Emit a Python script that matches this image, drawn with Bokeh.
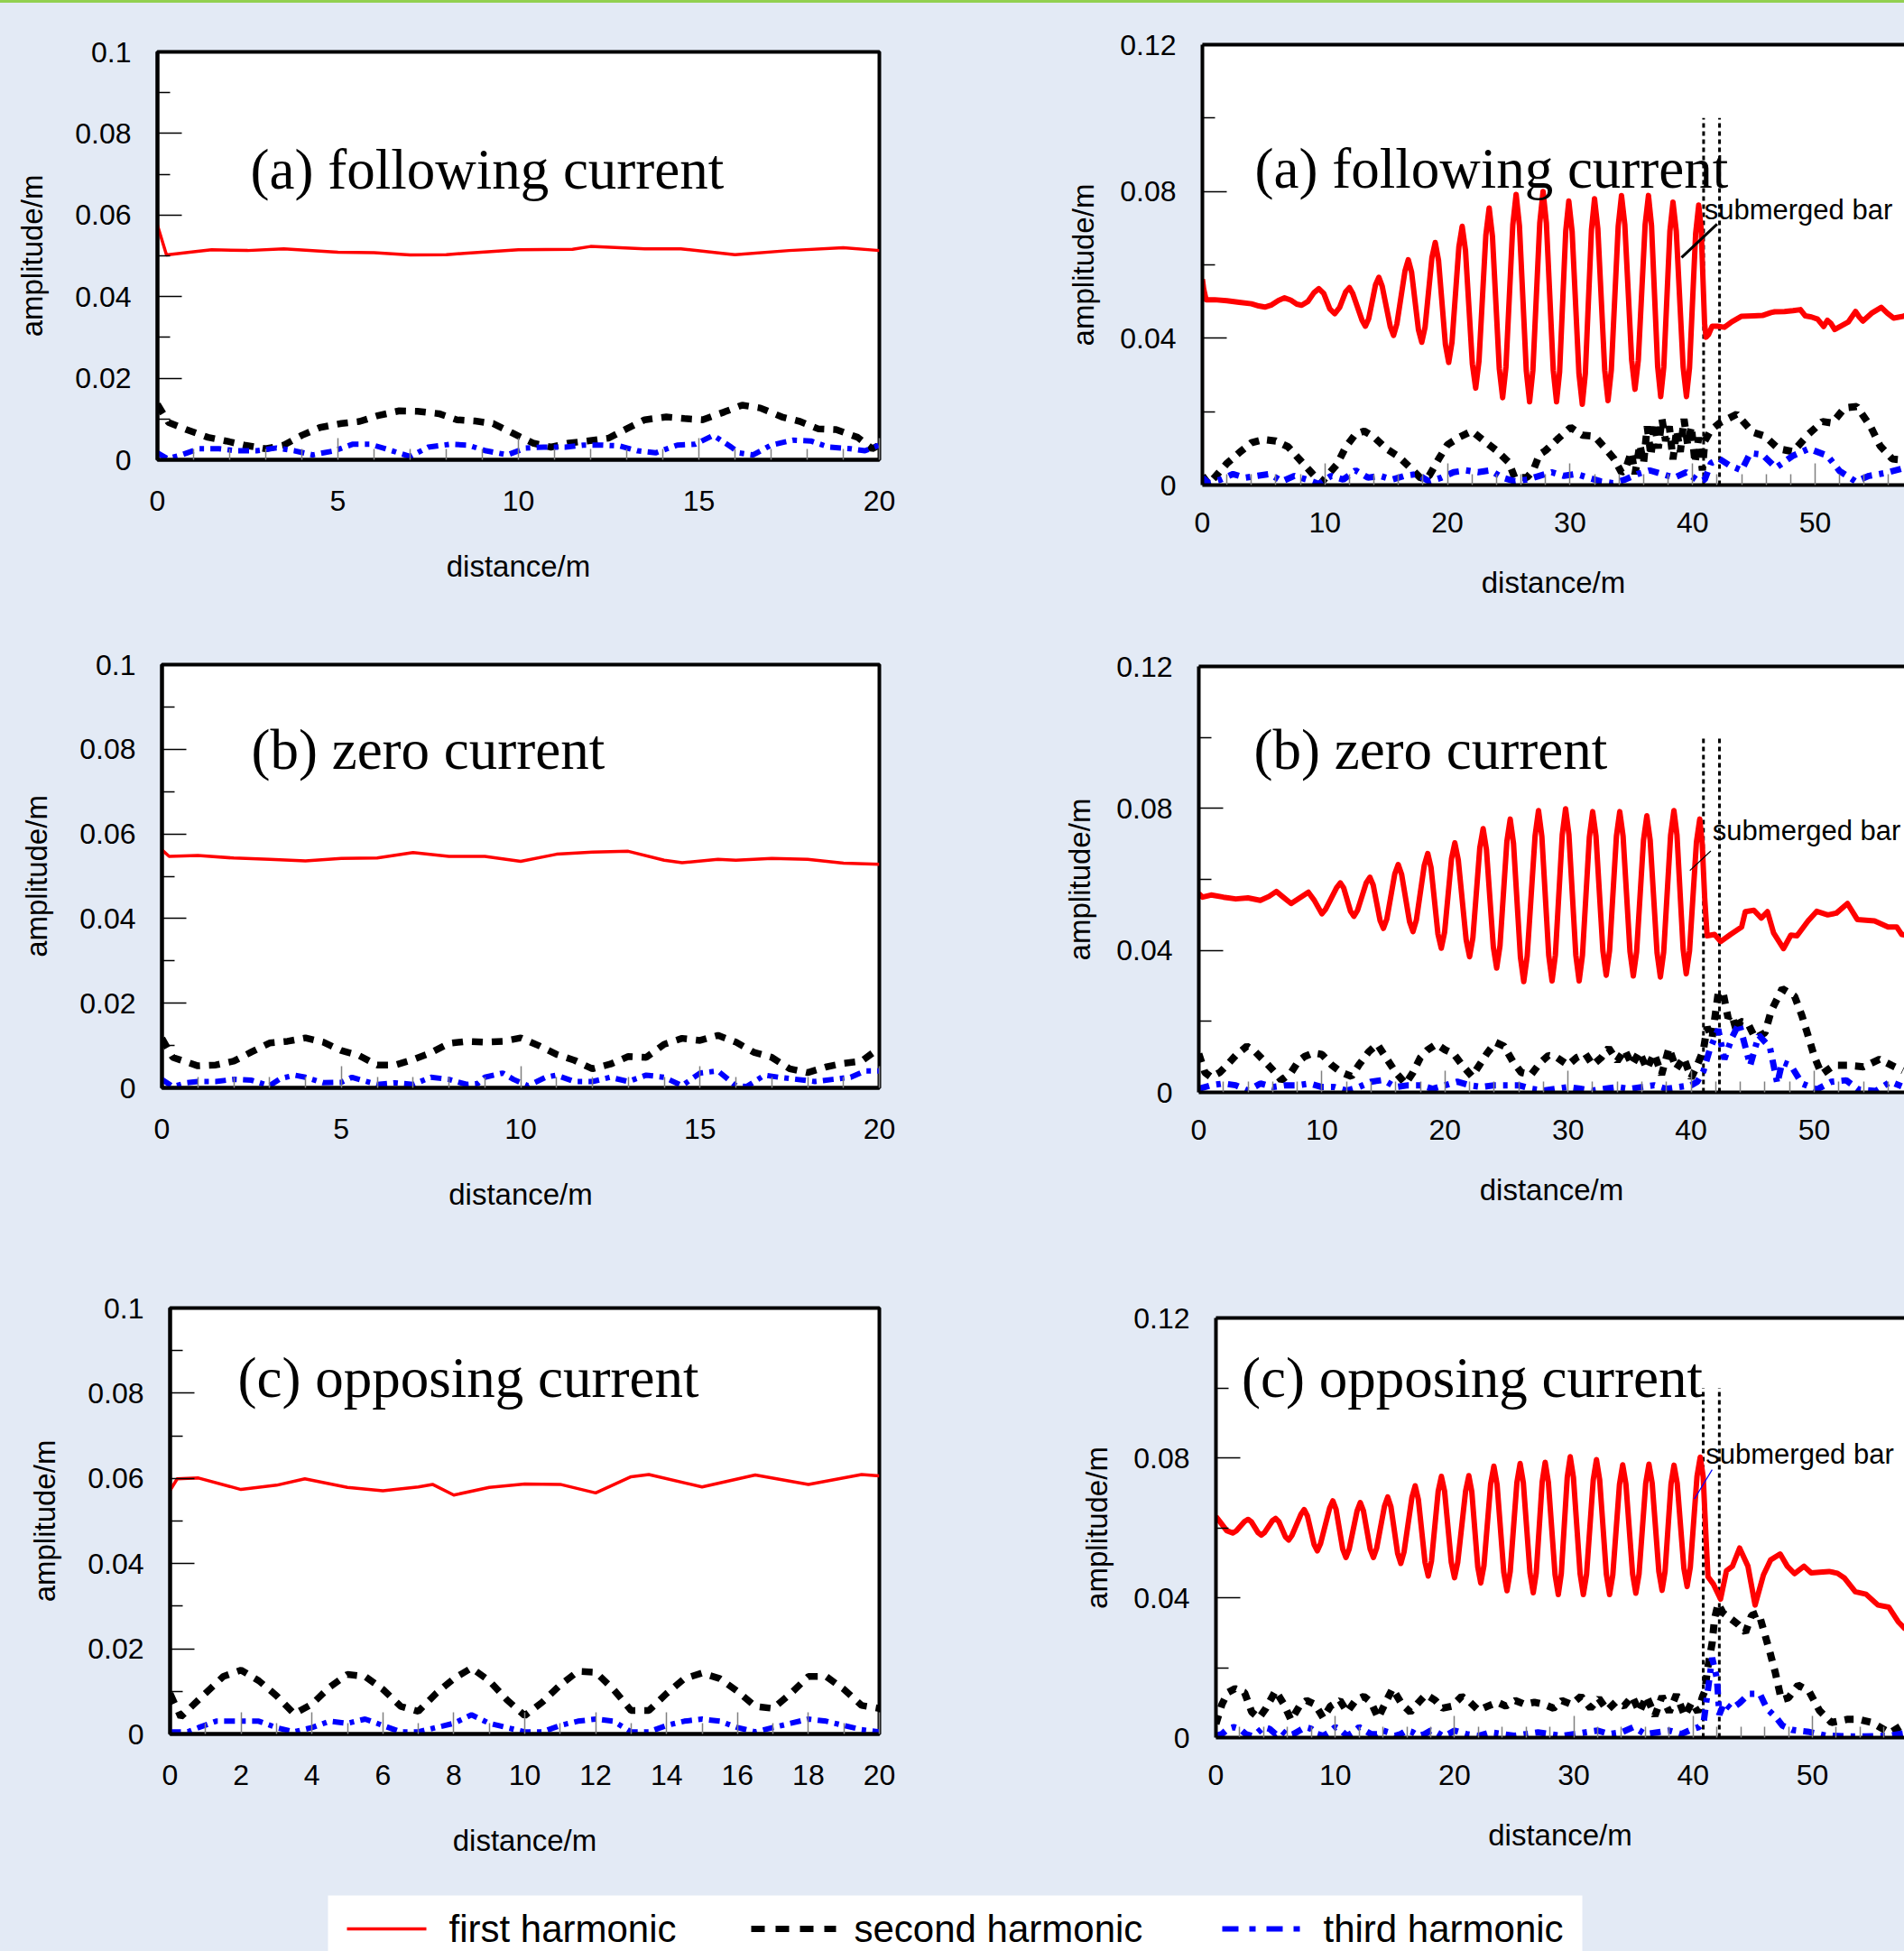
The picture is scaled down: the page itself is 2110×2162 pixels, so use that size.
from bokeh.plotting import figure
from bokeh.layouts import column, row
from bokeh.models import Range1d, LinearAxis, FixedTicker, Label
from bokeh.embed import file_html
from bokeh.resources import INLINE
from bokeh.core.properties import value

BG = "#E3EAF5"
SANS = "Liberation Sans"
SERIF = "Liberation Serif"

# ---------------- tick definitions ----------------
left_yticks = [0, 0.02, 0.04, 0.06, 0.08, 0.1]
left_ylabels = ["0", "0.02", "0.04", "0.06", "0.08", "0.1"]
left_yminor = [0.01, 0.03, 0.05, 0.07, 0.09]
right_yticks = [0, 0.04, 0.08, 0.12]
right_ylabels = ["0", "0.04", "0.08", "0.12"]
right_yminor = [0.02, 0.06, 0.1]
ab_xticks = [0, 5, 10, 15, 20]
ab_xlabels = ["0", "5", "10", "15", "20"]
ab_xminor = [1, 2, 3, 4, 6, 7, 8, 9, 11, 12, 13, 14, 16, 17, 18, 19]
c_xticks = [0, 2, 4, 6, 8, 10, 12, 14, 16, 18, 20]
c_xlabels = ["0", "2", "4", "6", "8", "10", "12", "14", "16", "18", "20"]
c_xminor = [1, 3, 5, 7, 9, 11, 13, 15, 17, 19]
r_xticks = [0, 10, 20, 30, 40, 50]
r_xlabels = ["0", "10", "20", "30", "40", "50"]
r_xminor = [2, 4, 6, 8, 12, 14, 16, 18, 22, 24, 26, 28, 32, 34, 36, 38, 42, 44, 46, 48, 52, 54, 56, 58]

titles = ["(a) following current", "(b) zero current", "(c) opposing current"]
series_names = ["first harmonic", "second harmonic", "third harmonic"]

# submerged bar edges (m) for right panels (a), (b), (c)
bar_a = [40.9, 42.2]
bar_b = [41.0, 42.3]
bar_c = [40.85, 42.2]
bar_top = 0.1

# ---------------- left (a) following current, 0-20 m ----------------
la_first = [(0, 0.0575), (0.25, 0.0502), (1, 0.0510), (1.5, 0.0515), (2.5, 0.0513), (3.5, 0.0517),
            (5, 0.0509), (6, 0.0508), (7, 0.0502), (8, 0.0503), (8.5, 0.0506), (10, 0.0515),
            (11.5, 0.0516), (12, 0.0523), (13.5, 0.0517), (14.5, 0.0517), (16, 0.0503),
            (17.5, 0.0513), (19, 0.0520), (20, 0.0513)]
la_second = [(0, 0.0136), (0.3, 0.0092), (0.8, 0.0074), (1.4, 0.0055), (1.9, 0.0046), (2.4, 0.0036),
             (3.0, 0.0027), (3.5, 0.0036), (4.0, 0.0060), (4.5, 0.0079), (5.1, 0.0089), (5.6, 0.0094),
             (6.1, 0.0108), (6.7, 0.0120), (7.2, 0.0119), (7.8, 0.0113), (8.3, 0.0098), (8.8, 0.0095),
             (9.3, 0.0089), (9.8, 0.0067), (10.4, 0.0041), (10.9, 0.0031), (11.4, 0.0041), (11.9, 0.0046),
             (12.5, 0.0053), (13.0, 0.0076), (13.5, 0.0098), (14.1, 0.0105), (14.6, 0.0101), (15.1, 0.0098),
             (15.7, 0.0117), (16.2, 0.0134), (16.7, 0.0127), (17.3, 0.0105), (17.8, 0.0094), (18.3, 0.0076),
             (18.8, 0.0074), (19.4, 0.0055), (19.8, 0.0027), (20, 0.0036)]
la_third = [(0, 0.0017), (0.27, 0.0003), (0.67, 0.0012), (1.15, 0.0027), (1.7, 0.0027), (2.2, 0.0022),
            (2.75, 0.0022), (3.3, 0.0029), (3.8, 0.0022), (4.3, 0.0012), (4.9, 0.0022), (5.4, 0.0038),
            (5.9, 0.0038), (6.5, 0.0022), (7.0, 0.0008), (7.5, 0.0031), (8.1, 0.0038), (8.6, 0.0036),
            (9.1, 0.0022), (9.7, 0.0012), (10.2, 0.0029), (10.7, 0.0031), (11.3, 0.0031), (11.8, 0.0036),
            (12.3, 0.0036), (12.8, 0.0034), (13.3, 0.0022), (13.8, 0.0017), (14.4, 0.0036), (14.9, 0.0038),
            (15.4, 0.0060), (15.9, 0.0031), (16.1, 0.0017), (16.5, 0.0012), (17.0, 0.0036), (17.6, 0.0048),
            (18.1, 0.0046), (18.6, 0.0031), (19.2, 0.0027), (19.6, 0.0022), (20.0, 0.0036)]

# ---------------- left (b) zero current ----------------
lb_first = [(0, 0.0562), (0.2, 0.0547), (1, 0.0549), (2, 0.0543), (3, 0.0540), (4, 0.0536), (5, 0.0542),
            (6, 0.0543), (7, 0.0556), (8, 0.0547), (9, 0.0547), (10, 0.0535), (11, 0.0552), (12, 0.0557),
            (13, 0.0559), (14, 0.0538), (14.5, 0.0532), (15.5, 0.0540), (16, 0.0538), (17, 0.0542),
            (18, 0.0540), (19, 0.0531), (20, 0.0528)]
lb_second = [(0, 0.0117), (0.3, 0.0072), (1, 0.0052), (1.5, 0.0054), (2, 0.0063), (2.5, 0.0085), (3, 0.0106),
             (3.5, 0.0110), (4, 0.0118), (4.5, 0.0108), (5, 0.0088), (5.5, 0.0076), (6, 0.0054), (6.5, 0.0054),
             (7, 0.0067), (7.5, 0.0083), (8, 0.0105), (8.5, 0.0110), (9, 0.0108), (9.5, 0.0110), (10, 0.0118),
             (10.5, 0.0100), (11, 0.0079), (11.5, 0.0065), (12, 0.0045), (12.5, 0.0056), (13, 0.0074),
             (13.5, 0.0072), (14, 0.0103), (14.5, 0.0117), (15, 0.0112), (15.5, 0.0124), (16, 0.0108),
             (16.5, 0.0084), (17, 0.0072), (17.5, 0.0045), (18, 0.0036), (18.5, 0.0049), (19, 0.0058),
             (19.5, 0.0063), (20, 0.0094)]
lb_third = [(0, 0.0020), (0.3, 0.0003), (0.7, 0.0012), (1, 0.0015), (1.5, 0.0015), (2, 0.0020), (2.5, 0.0018),
            (3, 0.0005), (3.3, 0.0022), (3.7, 0.0030), (4, 0.0025), (4.5, 0.0012), (5, 0.0013), (5.3, 0.0025),
            (5.7, 0.0015), (6, 0.0008), (6.5, 0.0012), (7, 0.0008), (7.5, 0.0025), (8, 0.0020), (8.5, 0.0008),
            (8.8, 0.0010), (9, 0.0025), (9.5, 0.0035), (9.8, 0.0020), (10.2, 0.0005), (10.7, 0.0025),
            (11, 0.0030), (11.5, 0.0015), (12, 0.0015), (12.5, 0.0025), (13, 0.0015), (13.5, 0.0030),
            (14, 0.0025), (14.5, 0.0005), (15, 0.0035), (15.5, 0.0040), (16, 0.0005), (16.3, 0.0003),
            (16.8, 0.0030), (17.2, 0.0025), (17.7, 0.0020), (18.2, 0.0015), (18.7, 0.0020), (19.2, 0.0025),
            (19.6, 0.0040), (20, 0.0040)]

# ---------------- left (c) opposing current ----------------
lc_first = [(0, 0.0572), (0.2, 0.0599), (0.8, 0.0601), (2, 0.0574), (3, 0.0584), (3.8, 0.0599), (5, 0.0579),
            (6, 0.0571), (7, 0.0580), (7.4, 0.0586), (8, 0.0561), (9, 0.0579), (10, 0.0587), (11, 0.0586),
            (12, 0.0566), (13, 0.0604), (13.5, 0.0609), (15, 0.0580), (16.5, 0.0608), (18, 0.0586),
            (19.5, 0.0609), (20, 0.0606)]
lc_second = [(0, 0.0095), (0.3, 0.0040), (0.8, 0.0080), (1.5, 0.0135), (2, 0.0150), (2.5, 0.0125), (3, 0.0090),
             (3.5, 0.0047), (4, 0.0070), (4.5, 0.0110), (5, 0.0140), (5.5, 0.0135), (6, 0.0105), (6.5, 0.0065),
             (7, 0.0053), (7.5, 0.0095), (8, 0.0130), (8.5, 0.0155), (9, 0.0125), (9.5, 0.0080), (10, 0.0043),
             (10.5, 0.0075), (11, 0.0115), (11.5, 0.0147), (12, 0.0145), (12.5, 0.0105), (13, 0.0055),
             (13.5, 0.0055), (14, 0.0095), (14.5, 0.0130), (15, 0.0143), (15.5, 0.0130), (16, 0.0100),
             (16.5, 0.0065), (17, 0.0060), (17.5, 0.0095), (18, 0.0135), (18.5, 0.0135), (19, 0.0105),
             (19.5, 0.0067), (20, 0.0060)]
lc_third = [(0, 0.0005), (0.5, 0.0005), (0.8, 0.0015), (1.3, 0.0030), (2, 0.0030), (2.5, 0.0030), (3, 0.0015),
            (3.5, 0.0005), (4, 0.0015), (4.5, 0.0030), (5, 0.0025), (5.5, 0.0035), (6, 0.0020), (6.5, 0.0005),
            (7, 0.0005), (7.5, 0.0015), (8, 0.0025), (8.5, 0.0045), (9, 0.0025), (9.5, 0.0015), (10, 0.0005),
            (10.5, 0.0005), (11, 0.0020), (11.5, 0.0030), (12, 0.0035), (12.5, 0.0030), (13, 0.0005),
            (13.5, 0.0005), (14, 0.0020), (14.5, 0.0030), (15, 0.0035), (15.5, 0.0030), (16, 0.0015),
            (16.5, 0.0005), (17, 0.0015), (17.5, 0.0025), (18, 0.0035), (18.5, 0.0030), (19, 0.0020),
            (19.5, 0.0010), (20, 0.0005)]

# ---------------- right (a) following current, 0-60 m ----------------
ra_first = [(0, 0.0561), (0.1, 0.0535), (0.3, 0.0505), (1.0, 0.0505), (2.0, 0.0502), (3.0, 0.0498), (4.0, 0.0494),
            (4.6, 0.0488), (5.1, 0.0485), (5.6, 0.0490), (6.2, 0.0503), (6.7, 0.0510), (7.2, 0.0504), (7.7, 0.0493),
            (8.1, 0.0490), (8.6, 0.0500), (9.1, 0.0524), (9.5, 0.0535), (9.9, 0.0522), (10.4, 0.0480), (10.8, 0.0467),
            (11.2, 0.0484), (11.7, 0.0527), (12.0, 0.0538),
            (12.27, 0.0522), (13.03, 0.0449), (13.3, 0.0433), (13.57, 0.0453), (14.13, 0.0546), (14.4, 0.0566),
            (14.67, 0.0542), (15.33, 0.0432), (15.6, 0.0408), (15.87, 0.0439), (16.53, 0.0583), (16.8, 0.0614),
            (17.07, 0.0580), (17.63, 0.0423), (17.9, 0.0389), (18.17, 0.0430), (18.73, 0.0620), (19.0, 0.0661),
            (19.27, 0.0612), (19.83, 0.0383), (20.1, 0.0334), (20.37, 0.0390), (20.93, 0.0649), (21.2, 0.0705),
            (21.47, 0.0639), (22.03, 0.0330), (22.3, 0.0264), (22.57, 0.0338), (23.13, 0.0681), (23.4, 0.0755),
            (23.67, 0.0677), (24.23, 0.0316), (24.5, 0.0238), (24.77, 0.0321), (25.33, 0.0709), (25.6, 0.0792),
            (25.87, 0.0707), (26.43, 0.0312), (26.7, 0.0227), (26.97, 0.0313), (27.53, 0.0714), (27.8, 0.0800),
            (28.07, 0.0714), (28.63, 0.0313), (28.9, 0.0227), (29.15, 0.0309), (29.65, 0.0692), (29.9, 0.0774),
            (30.17, 0.0691), (30.73, 0.0303), (31.0, 0.0220), (31.25, 0.0304), (31.75, 0.0696), (32.0, 0.0780),
            (32.27, 0.0698), (32.83, 0.0313), (33.1, 0.0230), (33.37, 0.0314), (33.93, 0.0705), (34.2, 0.0789),
            (34.47, 0.0710), (35.03, 0.0340), (35.3, 0.0261), (35.57, 0.0340), (36.13, 0.0710), (36.4, 0.0789),
            (36.65, 0.0707), (37.15, 0.0323), (37.4, 0.0241), (37.65, 0.0321), (38.15, 0.0692), (38.4, 0.0771),
            (38.67, 0.0692), (39.23, 0.0321), (39.5, 0.0241), (39.75, 0.0319), (40.25, 0.0685), (40.5, 0.0763),
            (40.7, 0.0700), (40.85, 0.0560), (40.98, 0.0440), (41.1, 0.0403), (41.3, 0.0410), (41.6, 0.0433),
            (42.0, 0.0433), (42.6, 0.0430), (43.2, 0.0445), (44.0, 0.0460), (45.0, 0.0461), (45.7, 0.0462),
            (46.4, 0.0470), (46.7, 0.0472), (47.5, 0.0473), (48.2, 0.0475), (48.8, 0.0478), (49.2, 0.0461),
            (49.7, 0.0458), (50.2, 0.0452), (50.7, 0.0432), (51.0, 0.0449), (51.3, 0.0440), (51.6, 0.0424),
            (52.2, 0.0435), (52.7, 0.0444), (53.3, 0.0473), (53.6, 0.0458), (53.9, 0.0447), (54.6, 0.0468),
            (55.4, 0.0484), (55.9, 0.0468), (56.4, 0.0455), (57.2, 0.0460), (58.0, 0.0470)]
ra_second = [(0, 0.0025), (0.5, 0.0003), (1, 0.0021), (2, 0.0059), (3, 0.0088), (4, 0.0115), (5, 0.0124), (6, 0.0120),
             (7, 0.0104), (8, 0.0067), (9, 0.0030), (9.7, 0.0006), (10.3, 0.0030), (11, 0.0057), (11.7, 0.0104),
             (12.5, 0.0139), (13.2, 0.0147), (14, 0.0131), (15, 0.0099), (16, 0.0078), (17, 0.0046), (17.8, 0.0019),
             (18.5, 0.0025), (19.3, 0.0072), (20, 0.0110), (21, 0.0131), (22, 0.0147), (23, 0.0120), (24, 0.0094),
             (25, 0.0062), (25.5, 0.0019), (26.5, 0.0021), (27, 0.0040), (27.5, 0.0083), (28, 0.0094), (28.95, 0.0124),
             (30.05, 0.0157), (31.0, 0.0136), (32.0, 0.0133), (32.8, 0.0103), (33.6, 0.0071), (34.2, 0.0034),
             (34.5, 0.0040), (35.0, 0.0090), (35.3, 0.0030), (35.7, 0.0110), (36.0, 0.0060), (36.3, 0.0160),
             (36.6, 0.0080), (36.9, 0.0170), (37.2, 0.0100), (37.5, 0.0180), (37.8, 0.0120), (38.1, 0.0160),
             (38.4, 0.0070), (38.7, 0.0150), (39.0, 0.0090), (39.3, 0.0180), (39.6, 0.0110), (39.9, 0.0160),
             (40.2, 0.0060), (40.5, 0.0130), (40.8, 0.0040), (41.0, 0.0120), (41.5, 0.0150), (42.2, 0.0169),
             (43.6, 0.0193), (44.9, 0.0144), (45.9, 0.0133), (47.0, 0.0099), (48.2, 0.0091), (49.5, 0.0140),
             (50.6, 0.0173), (51.4, 0.0169), (52.4, 0.0210), (53.4, 0.0214), (54.5, 0.0161), (55.3, 0.0107),
             (56.3, 0.0071), (57.3, 0.0068)]
ra_third = [(0, 0.0020), (0.5, 0.0005), (1.5, 0.0015), (2.5, 0.0030), (3.5, 0.0020), (4.5, 0.0025), (5.5, 0.0030),
            (6.5, 0.0010), (7.5, 0.0025), (8.5, 0.0015), (9.5, 0.0003), (10.5, 0.0025), (11.5, 0.0015), (12.5, 0.0040),
            (13.5, 0.0020), (14.5, 0.0025), (15.5, 0.0015), (16.5, 0.0025), (17.5, 0.0030), (18.5, 0.0010),
            (19.5, 0.0020), (20.5, 0.0035), (21.5, 0.0040), (22.5, 0.0035), (23.5, 0.0040), (24.5, 0.0020),
            (25.5, 0.0010), (26.5, 0.0015), (27.5, 0.0025), (28.5, 0.0035), (29.5, 0.0025), (30.5, 0.0030),
            (31.5, 0.0020), (32.5, 0.0010), (33.5, 0.0005), (34.5, 0.0015), (35.5, 0.0030), (36.5, 0.0040),
            (37.5, 0.0030), (38.5, 0.0020), (39.5, 0.0035), (40.5, 0.0010), (41.0, 0.0015), (41.5, 0.0060),
            (42.2, 0.0071), (43.0, 0.0054), (44.0, 0.0040), (44.7, 0.0087), (45.7, 0.0083), (46.8, 0.0047),
            (48.2, 0.0080), (49.5, 0.0099), (51.0, 0.0080), (52.0, 0.0038), (53.3, 0.0010), (54.4, 0.0025),
            (55.9, 0.0034), (57.3, 0.0047)]

# ---------------- right (b) zero current ----------------
rb_first = [(0, 0.0560), (0.3, 0.0550), (1, 0.0556), (2, 0.0550), (3, 0.0545), (4, 0.0548), (5, 0.0541), (5.7, 0.0552),
            (6.3, 0.0566), (6.9, 0.0549), (7.5, 0.0532), (8.2, 0.0548), (8.9, 0.0564), (9.4, 0.0540), (10.0, 0.0503),
            (10.3, 0.0516), (11.2, 0.0577), (11.5, 0.0590), (11.77, 0.0576), (12.33, 0.0510), (12.6, 0.0496),
            (12.9, 0.0513), (13.6, 0.0590), (13.9, 0.0606), (14.17, 0.0584), (14.73, 0.0484), (15.0, 0.0462),
            (15.28, 0.0489), (15.92, 0.0615), (16.2, 0.0642), (16.48, 0.0614), (17.12, 0.0481), (17.4, 0.0453),
            (17.68, 0.0486), (18.32, 0.0640), (18.6, 0.0673), (18.87, 0.0633), (19.43, 0.0446), (19.7, 0.0406),
            (19.97, 0.0451), (20.53, 0.0658), (20.8, 0.0703), (21.08, 0.0655), (21.72, 0.0430), (22.0, 0.0382),
            (22.27, 0.0436), (22.83, 0.0689), (23.1, 0.0743), (23.37, 0.0684), (23.93, 0.0409), (24.2, 0.0350),
            (24.47, 0.0413), (25.03, 0.0707), (25.3, 0.0770), (25.57, 0.0701), (26.13, 0.0381), (26.4, 0.0312),
            (26.68, 0.0384), (27.32, 0.0722), (27.6, 0.0794), (27.87, 0.0722), (28.43, 0.0386), (28.7, 0.0314),
            (28.97, 0.0387), (29.53, 0.0726), (29.8, 0.0799), (30.07, 0.0726), (30.63, 0.0387), (30.9, 0.0314),
            (31.17, 0.0386), (31.73, 0.0719), (32.0, 0.0791), (32.27, 0.0722), (32.83, 0.0399), (33.1, 0.0330),
            (33.37, 0.0399), (33.93, 0.0722), (34.2, 0.0791), (34.47, 0.0722), (35.03, 0.0397), (35.3, 0.0328),
            (35.57, 0.0396), (36.13, 0.0711), (36.4, 0.0779), (36.67, 0.0711), (37.23, 0.0393), (37.5, 0.0325),
            (37.77, 0.0395), (38.33, 0.0724), (38.6, 0.0794), (38.85, 0.0725), (39.35, 0.0403), (39.6, 0.0334),
            (39.87, 0.0399), (40.43, 0.0705), (40.7, 0.0770), (40.9, 0.0700), (41.1, 0.0548), (41.3, 0.0441),
            (41.9, 0.0445), (42.4, 0.0425), (43.2, 0.0445), (44.1, 0.0466), (44.4, 0.0509), (45.1, 0.0513),
            (45.7, 0.0491), (46.2, 0.0509), (46.7, 0.0449), (47.5, 0.0405), (48.1, 0.0443), (48.6, 0.0441),
            (49.5, 0.0483), (50.2, 0.0510), (51.1, 0.0500), (51.8, 0.0505), (52.7, 0.0532), (53.5, 0.0487),
            (54.9, 0.0483), (56.0, 0.0466), (56.7, 0.0466), (57.1, 0.0445), (58.0, 0.0440)]
rb_second = [(0, 0.0109), (0.5, 0.0056), (1, 0.0043), (1.7, 0.0056), (2.3, 0.0077), (3, 0.0104), (3.9, 0.0130),
             (4.6, 0.0114), (5.5, 0.0082), (6.2, 0.0056), (6.7, 0.0034), (7.5, 0.0056), (8.1, 0.0088), (8.6, 0.0101),
             (9.3, 0.0111), (10.0, 0.0107), (10.8, 0.0077), (11.6, 0.0056), (12.4, 0.0045), (13.0, 0.0077),
             (13.8, 0.0114), (14.5, 0.0136), (15.3, 0.0093), (16.0, 0.0056), (16.8, 0.0024), (17.4, 0.0056),
             (18.0, 0.0098), (18.6, 0.0120), (19.3, 0.0136), (20.0, 0.0120), (20.7, 0.0109), (21.4, 0.0077),
             (22.2, 0.0045), (22.8, 0.0077), (23.4, 0.0109), (24.1, 0.0141), (24.8, 0.0130), (25.5, 0.0088),
             (26.2, 0.0056), (27.0, 0.0050), (27.7, 0.0082), (28.4, 0.0104), (29.1, 0.0098), (30.0, 0.0077),
             (30.7, 0.0098), (31.4, 0.0109), (32.0, 0.0077), (32.7, 0.0098), (33.3, 0.0125), (34.0, 0.0088),
             (34.6, 0.0120), (35.2, 0.0077), (35.8, 0.0114), (36.4, 0.0066), (37.0, 0.0109), (37.6, 0.0050),
             (38.2, 0.0125), (38.8, 0.0066), (39.4, 0.0098), (40.0, 0.0040), (40.5, 0.0077), (41.0, 0.0120),
             (41.3, 0.0184), (41.7, 0.0152), (42.2, 0.0280), (42.6, 0.0280), (43.0, 0.0210), (43.3, 0.0220),
             (43.7, 0.0170), (44.0, 0.0200), (44.6, 0.0195), (45.2, 0.0153), (46.0, 0.0168), (46.5, 0.0229),
             (47.4, 0.0292), (48.4, 0.0271), (49.0, 0.0216), (49.5, 0.0160), (50.0, 0.0102), (50.6, 0.0051),
             (51.6, 0.0076), (52.7, 0.0076), (54.0, 0.0072), (55.3, 0.0093), (56.3, 0.0076), (57.2, 0.0061)]
rb_third = [(0, 0.0010), (1, 0.0020), (2, 0.0025), (3, 0.0020), (4, 0.0005), (5, 0.0025), (6, 0.0015), (7, 0.0020),
            (8, 0.0020), (9, 0.0025), (10, 0.0015), (11, 0.0015), (12, 0.0005), (13, 0.0015), (14, 0.0030),
            (15, 0.0035), (16, 0.0015), (17, 0.0020), (18, 0.0020), (19, 0.0010), (20, 0.0020), (21, 0.0030),
            (22, 0.0020), (23, 0.0015), (24, 0.0020), (25, 0.0020), (26, 0.0020), (27, 0.0010), (28, 0.0005),
            (29, 0.0010), (30, 0.0015), (31, 0.0010), (32, 0.0005), (33, 0.0010), (34, 0.0015), (35, 0.0010),
            (36, 0.0015), (37, 0.0020), (38, 0.0010), (39, 0.0015), (40, 0.0020), (40.5, 0.0030), (41.0, 0.0060),
            (41.5, 0.0119), (42.2, 0.0178), (42.7, 0.0093), (43.3, 0.0153), (43.9, 0.0195), (44.8, 0.0076),
            (45.5, 0.0161), (46.4, 0.0127), (47.0, 0.0025), (47.4, 0.0085), (48.1, 0.0076), (49.0, 0.0025),
            (50.2, 0.0008), (51.4, 0.0030), (52.6, 0.0034), (53.6, 0.0008), (55.0, 0.0004), (56.2, 0.0030),
            (57.1, 0.0017)]

# ---------------- right (c) opposing current ----------------
rc_first = [(0, 0.0632), (0.3, 0.0619), (0.9, 0.0592), (1.4, 0.0585), (1.7, 0.0591), (2.4, 0.0618), (2.7, 0.0624),
            (2.97, 0.0617), (3.53, 0.0586), (3.8, 0.0579), (4.07, 0.0586), (4.73, 0.0620), (5.0, 0.0627),
            (5.27, 0.0618), (5.83, 0.0574), (6.1, 0.0565), (6.37, 0.0578), (7.13, 0.0639), (7.4, 0.0652),
            (7.67, 0.0634), (8.23, 0.0552), (8.5, 0.0534), (8.77, 0.0555), (9.53, 0.0656), (9.8, 0.0677),
            (10.07, 0.0653), (10.63, 0.0539), (10.9, 0.0515), (11.17, 0.0539), (11.83, 0.0648), (12.1, 0.0672),
            (12.37, 0.0648), (12.93, 0.0539), (13.2, 0.0515), (13.47, 0.0541), (14.13, 0.0662), (14.4, 0.0688),
            (14.67, 0.0660), (15.23, 0.0527), (15.5, 0.0498), (15.77, 0.0531), (16.43, 0.0687), (16.7, 0.0720),
            (16.97, 0.0681), (17.53, 0.0501), (17.8, 0.0462), (18.07, 0.0505), (18.63, 0.0704), (18.9, 0.0747),
            (19.17, 0.0704), (19.73, 0.0501), (20.0, 0.0457), (20.27, 0.0501), (20.93, 0.0705), (21.2, 0.0749),
            (21.45, 0.0703), (21.95, 0.0488), (22.2, 0.0442), (22.47, 0.0492), (23.03, 0.0726), (23.3, 0.0776),
            (23.57, 0.0723), (24.13, 0.0473), (24.4, 0.0420), (24.67, 0.0475), (25.23, 0.0729), (25.5, 0.0784),
            (25.77, 0.0729), (26.33, 0.0470), (26.6, 0.0414), (26.85, 0.0470), (27.35, 0.0731), (27.6, 0.0787),
            (27.87, 0.0730), (28.43, 0.0466), (28.7, 0.0409), (28.95, 0.0468), (29.45, 0.0744), (29.7, 0.0803),
            (29.97, 0.0744), (30.53, 0.0468), (30.8, 0.0409), (31.07, 0.0467), (31.63, 0.0737), (31.9, 0.0795),
            (32.17, 0.0737), (32.73, 0.0467), (33.0, 0.0409), (33.27, 0.0465), (33.83, 0.0724), (34.1, 0.0780),
            (34.37, 0.0725), (34.93, 0.0468), (35.2, 0.0413), (35.47, 0.0468), (36.03, 0.0727), (36.3, 0.0782),
            (36.57, 0.0728), (37.13, 0.0475), (37.4, 0.0421), (37.65, 0.0475), (38.15, 0.0725), (38.4, 0.0779),
            (38.67, 0.0727), (39.23, 0.0484), (39.5, 0.0432), (39.77, 0.0488), (40.33, 0.0747), (40.6, 0.0802),
            (40.85, 0.0745), (41.1, 0.0560), (41.25, 0.0460), (41.7, 0.0439), (42.3, 0.0396), (42.8, 0.0477),
            (43.3, 0.0490), (43.9, 0.0542), (44.6, 0.0490), (45.2, 0.0379), (45.9, 0.0465), (46.5, 0.0508),
            (47.3, 0.0525), (47.9, 0.0490), (48.5, 0.0469), (49.3, 0.0490), (49.9, 0.0471), (50.6, 0.0473),
            (51.4, 0.0475), (52.1, 0.0470), (52.7, 0.0456), (53.6, 0.0417), (54.5, 0.0410), (55.5, 0.0379),
            (56.4, 0.0373), (57.2, 0.0331), (57.8, 0.0310)]
rc_second = [(0, 0.0039), (0.5, 0.0095), (1.0, 0.0129), (1.6, 0.0140), (2.4, 0.0129), (3.0, 0.0073), (3.6, 0.0056),
             (4.2, 0.0084), (5.0, 0.0134), (5.7, 0.0095), (6.3, 0.0050), (7.0, 0.0090), (7.6, 0.0106), (8.3, 0.0095),
             (9.0, 0.0056), (9.6, 0.0090), (10.4, 0.0106), (11.0, 0.0073), (11.7, 0.0106), (12.4, 0.0118),
             (13.0, 0.0101), (13.6, 0.0056), (14.3, 0.0106), (14.8, 0.0140), (15.6, 0.0095), (16.3, 0.0073),
             (17.0, 0.0101), (17.6, 0.0123), (18.4, 0.0106), (19.0, 0.0084), (19.8, 0.0090), (20.6, 0.0118),
             (21.3, 0.0101), (22.0, 0.0078), (22.8, 0.0090), (23.6, 0.0101), (24.3, 0.0090), (25.1, 0.0106),
             (25.9, 0.0095), (26.7, 0.0101), (27.5, 0.0095), (28.3, 0.0084), (29.0, 0.0106), (29.8, 0.0095),
             (30.6, 0.0118), (31.4, 0.0084), (32.1, 0.0112), (32.8, 0.0078), (33.5, 0.0101), (34.2, 0.0090),
             (34.9, 0.0118), (35.5, 0.0073), (36.1, 0.0118), (36.8, 0.0062), (37.4, 0.0118), (38.0, 0.0073),
             (38.6, 0.0123), (39.3, 0.0062), (39.9, 0.0101), (40.4, 0.0073), (40.8, 0.0118), (41.0, 0.0134),
             (41.2, 0.0194), (41.6, 0.0271), (41.8, 0.0340), (42.1, 0.0383), (42.5, 0.0357), (43.0, 0.0344),
             (43.8, 0.0323), (44.4, 0.0301), (44.9, 0.0349), (45.5, 0.0357), (46.0, 0.0297), (46.5, 0.0237),
             (46.9, 0.0185), (47.4, 0.0108), (48.0, 0.0114), (48.8, 0.0150), (49.7, 0.0134), (50.6, 0.0077),
             (51.6, 0.0043), (52.9, 0.0052), (53.9, 0.0052), (55.0, 0.0043), (56.5, 0.0013), (57.5, 0.0034)]
rc_third = [(0, 0.0005), (0.5, 0.0010), (1.0, 0.0025), (1.5, 0.0030), (2.0, 0.0025), (2.5, 0.0010), (3.0, 0.0005),
            (3.5, 0.0015), (4.0, 0.0030), (4.5, 0.0025), (5.0, 0.0010), (5.5, 0.0020), (6.0, 0.0005), (6.5, 0.0010),
            (7.0, 0.0020), (7.5, 0.0030), (8.0, 0.0025), (8.5, 0.0010), (9.0, 0.0005), (9.5, 0.0015), (10.0, 0.0030),
            (10.5, 0.0020), (11.0, 0.0005), (11.5, 0.0015), (12.0, 0.0030), (12.5, 0.0020), (13.0, 0.0010),
            (13.5, 0.0010), (14.0, 0.0020), (14.5, 0.0015), (15.0, 0.0005), (15.5, 0.0010), (16.0, 0.0020),
            (16.5, 0.0015), (17.0, 0.0005), (17.5, 0.0010), (18.0, 0.0020), (18.5, 0.0015), (19.0, 0.0005),
            (19.5, 0.0010), (20.0, 0.0020), (21.0, 0.0010), (22.0, 0.0005), (23.0, 0.0015), (24.0, 0.0010),
            (25.0, 0.0005), (26.0, 0.0010), (27.0, 0.0015), (28.0, 0.0010), (29.0, 0.0005), (30.0, 0.0010),
            (31.0, 0.0015), (32.0, 0.0020), (33.0, 0.0010), (34.0, 0.0015), (35.0, 0.0030), (36.0, 0.0010),
            (37.0, 0.0015), (38.0, 0.0020), (39.0, 0.0010), (40.0, 0.0025), (40.5, 0.0030), (40.9, 0.0047),
            (41.2, 0.0125), (41.6, 0.0228), (42.0, 0.0168), (42.2, 0.0065), (42.6, 0.0099), (43.2, 0.0082),
            (43.9, 0.0099), (44.7, 0.0125), (45.6, 0.0125), (46.2, 0.0082), (47.0, 0.0056), (47.5, 0.0034),
            (48.3, 0.0022), (49.6, 0.0017), (51.1, 0.0006), (53.1, 0.0003), (55.1, 0.0004), (56.6, 0.0006),
            (57.8, 0.0013)]


def xs(pairs):
    return [p[0] for p in pairs]


def ys(pairs):
    return [p[1] for p in pairs]


def make_panel(w, h, bl, br, bt, bb, xmax, ymax, xticks, xminor, xlabels, yticks, yminor, ylabels,
               first, second, third, title, tx, ty, boxed, red_w, blk_w, blk_dash, blu_w, blu_dash,
               x_std, x_lab_std, y_std, y_lab_std,
               bar=None, bar_text=None, leader=None, leader_color="black", leader_w=1.0):
    p = figure(width=w, height=h, x_range=Range1d(0, xmax), y_range=Range1d(0, ymax),
               output_backend="svg", toolbar_location=None, frame_align=False,
               min_border_left=bl, min_border_right=br, min_border_top=bt, min_border_bottom=bb,
               background_fill_color="white", border_fill_color=BG,
               outline_line_color="black" if boxed else None, outline_line_width=4)
    p.xgrid.visible = False
    p.ygrid.visible = False
    xa = p.xaxis[0]
    ya = p.yaxis[0]
    xa.ticker = FixedTicker(ticks=xticks, minor_ticks=xminor)
    xa.major_label_overrides = dict(zip(xticks, xlabels))
    ya.ticker = FixedTicker(ticks=yticks, minor_ticks=yminor)
    ya.major_label_overrides = dict(zip(yticks, ylabels))
    for ax in (xa, ya):
        ax.axis_line_color = "black"
        ax.axis_line_width = 4
        ax.major_tick_out = 0
        ax.minor_tick_out = 0
        ax.major_label_text_font = SANS
        ax.major_label_text_font_size = "32px"
        ax.major_label_text_color = "black"
        ax.axis_label_text_font = SANS
        ax.axis_label_text_font_size = "33px"
        ax.axis_label_text_font_style = "normal"
        ax.axis_label_text_color = "black"
    xa.major_tick_in = 24
    xa.minor_tick_in = 12
    xa.major_tick_line_color = "#808080"
    xa.minor_tick_line_color = "#808080"
    xa.major_tick_line_width = 1.5
    xa.minor_tick_line_width = 1.5
    ya.major_tick_in = 27
    ya.minor_tick_in = 14
    ya.major_tick_line_color = "black"
    ya.minor_tick_line_color = "black"
    ya.major_tick_line_width = 1.5
    ya.minor_tick_line_width = 1.5
    xa.axis_label = "distance/m"
    ya.axis_label = "amplitude/m"
    xa.major_label_standoff = x_std
    xa.axis_label_standoff = x_lab_std
    ya.major_label_standoff = y_std
    ya.axis_label_standoff = y_lab_std

    if not boxed:
        top = LinearAxis(axis_line_color="black", axis_line_width=4,
                         major_tick_line_color=None, minor_tick_line_color=None,
                         major_label_text_font_size="0px", major_label_text_alpha=0)
        p.add_layout(top, "above")

    if bar is not None:
        p.segment(x0=bar, y0=[0] * len(bar), x1=bar, y1=[bar_top] * len(bar),
                  line_color="black", line_width=3, line_dash="5 4")

    p.line(xs(second), ys(second), line_color="black", line_width=blk_w, line_dash=blk_dash)
    p.line(xs(third), ys(third), line_color="#0000FF", line_width=blu_w, line_dash=blu_dash)
    p.line(xs(first), ys(first), line_color="#FF0000", line_width=red_w, line_join="round")

    if leader is not None:
        p.line(leader[0], leader[1], line_color=leader_color, line_width=leader_w)
    if bar_text is not None:
        p.add_layout(Label(x=bar_text[0], y=bar_text[1], text="submerged bar",
                           text_font=SANS, text_font_size="31px", text_color="black",
                           text_align="left", text_baseline="alphabetic"))

    p.add_layout(Label(x=tx, y=ty, text=title, text_font=SERIF, text_font_size="63px",
                       text_color="black", text_align="left", text_baseline="alphabetic"))
    return p


LEFT_W, RIGHT_W = 1080, 1030
BLK_L, BLK_R = "12 10", "10 9"
BLU_L, BLU_R = "12 7 5 7", "12 8 5 8"
LSTD = (34, 40, 29, 26)
RSTD = (30, 34, 29, 19)

la = make_panel(LEFT_W, 687, 174, 106, 54, 181, 20, 0.1, ab_xticks, ab_xminor, ab_xlabels,
                left_yticks, left_yminor, left_ylabels, la_first, la_second, la_third,
                titles[0], 2.575, 0.0712, True, 3.5, 7.5, BLK_L, 6, BLU_L, *LSTD)
ra = make_panel(RIGHT_W, 687, 252, 0, 46, 153, 57.29, 0.12, r_xticks, r_xminor, r_xlabels,
                right_yticks, right_yminor, right_ylabels, ra_first, ra_second, ra_third,
                titles[0], 4.27, 0.0861, False, 6, 8, BLK_R, 7, BLU_R, *RSTD,
                bar=bar_a, bar_text=(40.96, 0.0750), leader=([39.1, 42.0], [0.062, 0.0711]),
                leader_color="black", leader_w=3)

lb = make_panel(LEFT_W, 700, 179, 106, 46, 185, 20, 0.1, ab_xticks, ab_xminor, ab_xlabels,
                left_yticks, left_yminor, left_ylabels, lb_first, lb_second, lb_third,
                titles[1], 2.49, 0.0798, True, 3.5, 7.5, BLK_L, 6, BLU_L, *LSTD)
rb = make_panel(RIGHT_W, 700, 248, 0, 48, 180, 57.33, 0.12, r_xticks, r_xminor, r_xlabels,
                right_yticks, right_yminor, right_ylabels, rb_first, rb_second, rb_third,
                titles[1], 4.47, 0.0964, False, 6, 8, BLK_R, 7, BLU_R, *RSTD,
                bar=bar_b, bar_text=(41.74, 0.0738), leader=([39.9, 41.6], [0.0625, 0.068]),
                leader_color="black", leader_w=1.2)

lc = make_panel(LEFT_W, 685, 188, 106, 59, 154, 20, 0.1, c_xticks, c_xminor, c_xlabels,
                left_yticks, left_yminor, left_ylabels, lc_first, lc_second, lc_third,
                titles[2], 1.91, 0.0836, True, 3.5, 7.5, BLK_L, 6, BLU_L, *LSTD)
rc = make_panel(RIGHT_W, 685, 267, 0, 70, 150, 57.72, 0.12, r_xticks, r_xminor, r_xlabels,
                right_yticks, right_yminor, right_ylabels, rc_first, rc_second, rc_third,
                titles[2], 2.16, 0.1029, False, 6, 8, BLK_R, 7, BLU_R, *RSTD,
                bar=bar_c, bar_text=(41.06, 0.0810), leader=([40.1, 41.6], [0.0682, 0.0766]),
                leader_color="#0000FF", leader_w=1.2)

# ---------------- legend strip (drawn in a pixel-scaled strip figure) ----------------
LEG_W, LEG_H = 2110, 87
lg = figure(width=LEG_W, height=LEG_H, x_range=Range1d(0, LEG_W), y_range=Range1d(0, LEG_H),
            x_axis_type=None, y_axis_type=None, output_backend="svg", toolbar_location=None,
            frame_align=False, min_border_left=0, min_border_right=0, min_border_top=0, min_border_bottom=0,
            background_fill_color=BG, border_fill_color=BG, outline_line_color=None)
lg.xgrid.visible = False
lg.ygrid.visible = False
legend_box = dict(left=[363], right=[1753], bottom=[-10], top=[62])
legend_x0 = [384, 832, 1354]
legend_x1 = [472, 926, 1448]
legend_text_x = [497, 946, 1466]
lg.quad(left=legend_box["left"], right=legend_box["right"], bottom=legend_box["bottom"],
        top=legend_box["top"], fill_color="white", line_color=None)
lg.line([legend_x0[0], legend_x1[0]], [25, 25], line_color="#FF0000", line_width=3.5)
lg.line([legend_x0[1], legend_x1[1]], [25, 25], line_color="black", line_width=7, line_dash="15 12")
lg.line([legend_x0[2], legend_x1[2]], [25, 25], line_color="#0000FF", line_width=6, line_dash="18 12 7 12")
lg.text(x=legend_text_x, y=[25, 25, 25], text=series_names, text_font=value(SANS),
        text_font_size="42px", text_color="black", text_align="left", text_baseline="middle")

layout = column(row(la, ra), row(lb, rb), row(lc, rc), lg,
                styles={"background-color": BG, "border-top": "3px solid #92D050"})

open("out.html", "w").write(file_html(layout, INLINE))
